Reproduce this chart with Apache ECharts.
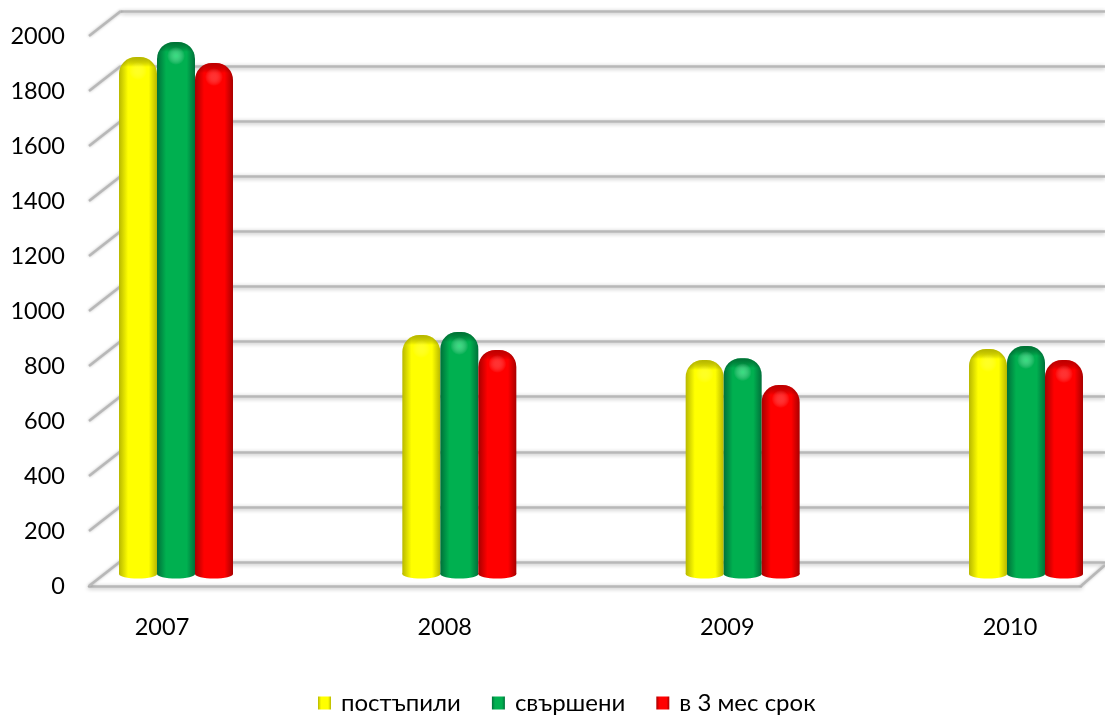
<!DOCTYPE html>
<html><head><meta charset="utf-8">
<style>html,body{margin:0;padding:0;background:#fff}#c{width:1105px;height:716px}</style>
<script src="https://cdn.jsdelivr.net/npm/echarts@6/dist/echarts.min.js"></script>
</head><body><div id="c"></div>
<script>
const categories = ['2007','2008','2009','2010'];
const seriesNames = ['постъпили','свършени','в 3 мес срок'];
const postapili = [1880,869,778,818];
const svarsheni = [1935,880,785,829];
const srok = [1858,815,687,778];
const yTicks = [0,200,400,600,800,1000,1200,1400,1600,1800,2000];

const FONT = 'Lato, "Open Sans", sans-serif';
const FS = 23.5;
const BAR_W = 38;
const palettes = [
  {edge:'#b8b800', mid:'#ffff00', dark:'rgba(110,110,0,0.5)', glow:'rgba(255,255,120,0.3)'},
  {edge:'#00703a', mid:'#00b050', dark:'rgba(0,60,30,0.55)', glow:'rgba(90,255,160,0.6)'},
  {edge:'#a80000', mid:'#ff0000', dark:'rgba(110,0,0,0.45)', glow:'rgba(255,110,110,0.45)'}
];
const bodyGrad = p => new echarts.graphic.LinearGradient(0,0,1,0,[
  {offset:0,color:p.edge},{offset:0.24,color:p.mid},{offset:0.78,color:p.mid},{offset:1,color:p.edge}]);
const values = [postapili,svarsheni,srok];

const gridLine = {color:'#b8b8b8',width:2.5,shadowColor:'rgba(0,0,0,0.3)',shadowBlur:4,shadowOffsetY:1};
const hiddenX = (g,extra) => Object.assign({type:'category',gridIndex:g,data:categories,boundaryGap:false,
  axisLine:{show:false},axisTick:{show:false},axisLabel:{show:false},splitLine:{show:false}},extra||{});
const valueY = (g,extra) => Object.assign({type:'value',gridIndex:g,min:0,max:2000,interval:200,
  axisLine:{show:false},axisTick:{show:false},axisLabel:{show:false},splitLine:{show:false}},extra||{});

const depthSeries = {
  type:'custom',xAxisIndex:1,yAxisIndex:1,silent:true,z:1,
  data:yTicks.map(v=>[0,v]),
  renderItem(params,api){
    const p = api.coord([0,api.value(1)]);
    const style = {stroke:'#b8b8b8',lineWidth:2.5,shadowColor:'rgba(0,0,0,0.25)',shadowBlur:3};
    const kids = [{type:'line',shape:{x1:p[0],y1:p[1],x2:p[0]+32,y2:p[1]-25},style}];
    if(api.value(1)===0){
      kids.push({type:'line',shape:{x1:p[0]+992,y1:p[1],x2:p[0]+1016,y2:p[1]-21},style});
    }
    return {type:'group',children:kids};
  }
};

const bars = seriesNames.map((name,i)=>({
  name,type:'bar',xAxisIndex:2,yAxisIndex:2,barWidth:BAR_W,barGap:'0%',clip:false,z:3,
  data:values[i],
  itemStyle:{color:bodyGrad(palettes[i]),borderRadius:[17,17,0,0]}
}));

const shade = {
  type:'custom',xAxisIndex:2,yAxisIndex:2,silent:true,z:4,clip:false,
  data:values.flatMap((arr,i)=>arr.map((v,c)=>[c,v,i])),
  renderItem(params,api){
    const top = api.coord([api.value(0),api.value(1)]);
    const base = api.coord([api.value(0),0]);
    const i = api.value(2), p = palettes[i];
    const cx = top[0]+(i-1)*BAR_W;
    return {type:'group',children:[
      {type:'ellipse',shape:{cx,cy:base[1],rx:BAR_W/2,ry:4.5},style:{fill:bodyGrad(p)}},
      {type:'rect',shape:{x:cx-BAR_W/2,y:top[1],width:BAR_W,height:18,r:[17,17,0,0]},
       style:{fill:new echarts.graphic.LinearGradient(0,0,0,1,[{offset:0,color:p.dark},{offset:0.55,color:'rgba(0,0,0,0)'}])}},
      {type:'circle',shape:{cx,cy:top[1]+14,r:9},
       style:{fill:new echarts.graphic.RadialGradient(0.5,0.5,0.5,[{offset:0,color:p.glow},{offset:1,color:'rgba(255,255,255,0)'}])}}
    ]};
  }
};

const option = {
  animation:false,backgroundColor:'#fff',textStyle:{fontFamily:FONT},
  grid:[
    {left:121,width:984,top:11,height:551},
    {left:89,width:992,top:36,height:550},
    {left:176,width:850,top:24,height:550},
    {left:162,width:848,top:36,height:550}
  ],
  xAxis:[
    hiddenX(0),
    hiddenX(1,{axisLine:{show:true,lineStyle:gridLine}}),
    hiddenX(2),
    hiddenX(3,{axisLabel:{show:true,color:'#000',fontSize:FS,fontFamily:FONT,margin:29,interval:0,showMinLabel:true,showMaxLabel:true}})
  ],
  yAxis:[
    valueY(0,{splitLine:{show:true,lineStyle:gridLine}}),
    valueY(1,{axisLabel:{show:true,color:'#000',fontSize:FS,fontFamily:FONT,margin:24,formatter:v=>String(v)}}),
    valueY(2),
    valueY(3)
  ],
  legend:{left:318,top:691,padding:0,itemWidth:13,itemHeight:13,itemGap:31,icon:'rect',
    data:seriesNames,textStyle:{color:'#000',fontSize:24,fontFamily:FONT,padding:[0,0,0,5]}},
  series:[depthSeries,...bars,shade,
    {type:'bar',xAxisIndex:3,yAxisIndex:3,data:[],silent:true}]
};
echarts.init(document.getElementById('c'),null,{renderer:'canvas'}).setOption(option);
</script></body></html>
